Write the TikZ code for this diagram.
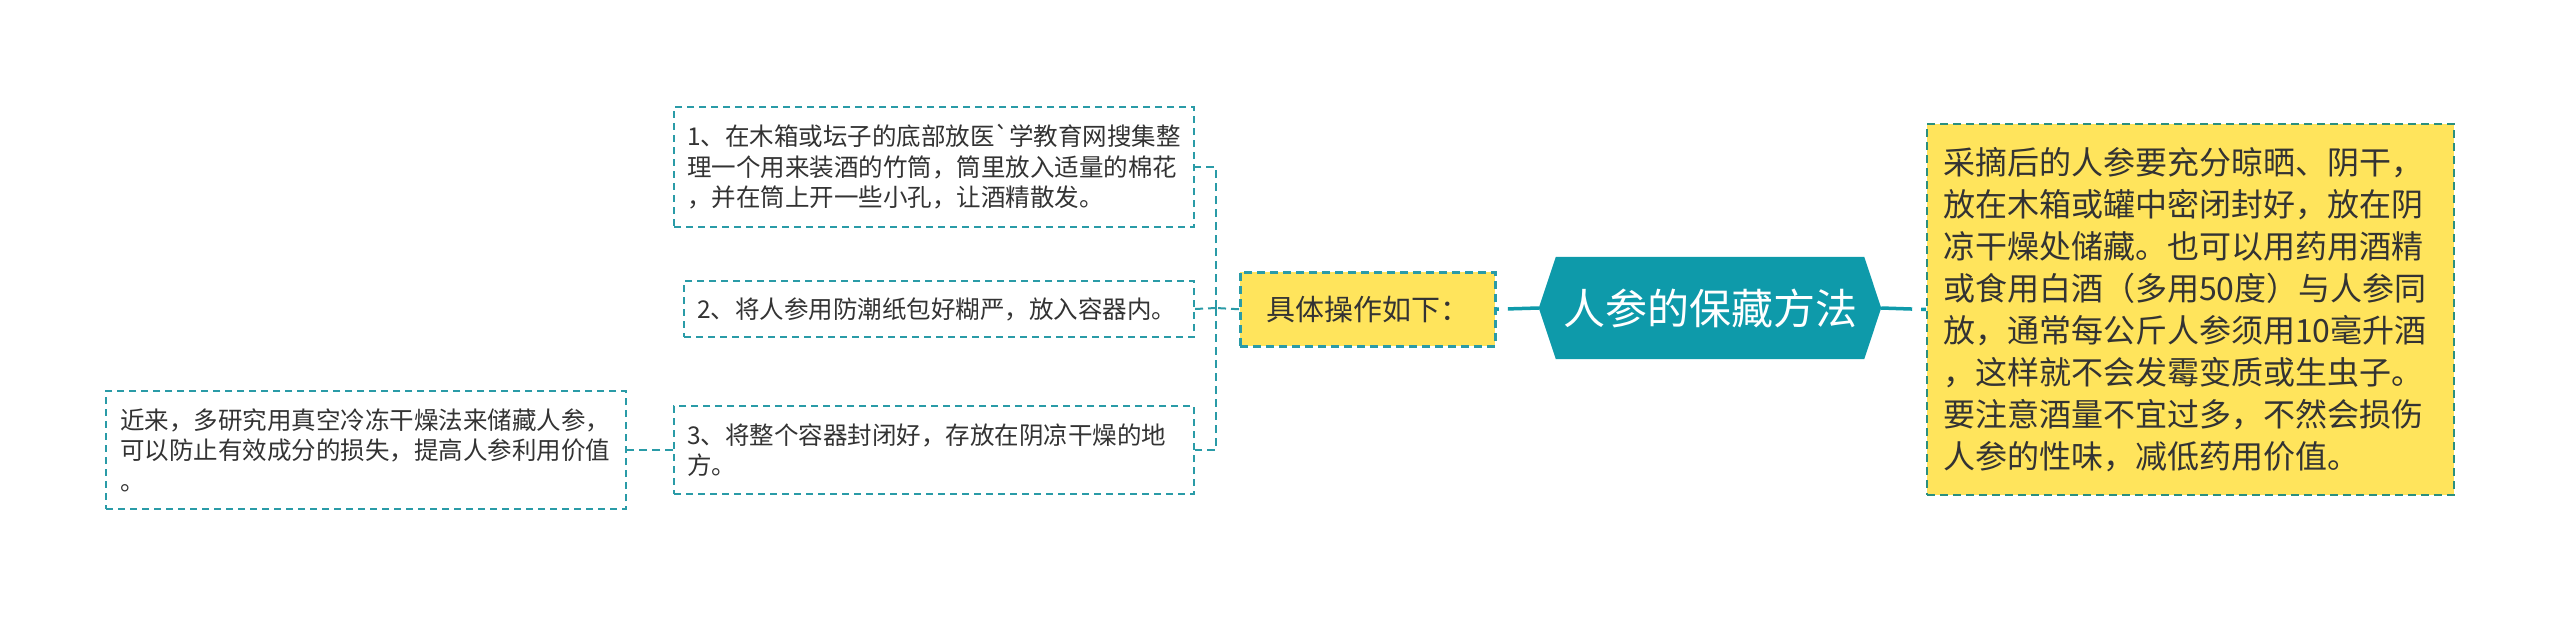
\documentclass[tikz,border=0pt]{standalone}
\usepackage{fontspec}
\setmainfont{Noto Sans CJK SC}
\usetikzlibrary{calc,backgrounds}
\definecolor{teal1}{HTML}{0E9AAA}
\definecolor{bord}{HTML}{2A9BA7}
\definecolor{bordg}{HTML}{2B8F7F}
\definecolor{yel}{HTML}{FFE45C}
\definecolor{txt}{HTML}{333333}
\tikzset{
  smallbox/.style={draw=bord, line width=2pt, dash pattern=on 7pt off 5pt,
    fill=white, text=txt, anchor=north west, inner xsep=13pt, inner ysep=0pt,
    align=left, font=\fontsize{24.5}{30.5}\selectfont},
  opbox/.style={draw=bord, line width=2.5pt, dash pattern=on 8pt off 5pt,
    fill=yel, text=txt, anchor=north west, inner sep=0pt, align=center,
    minimum width=255pt, minimum height=74pt, font=\fontsize{29}{34}\selectfont},
  rtbox/.style={draw=bordg, line width=2pt, dash pattern=on 8pt off 5pt,
    fill=yel, text=txt, anchor=north west, inner xsep=16pt, inner ysep=0pt,
    align=left, text width=495pt, minimum height=371pt,
    font=\fontsize{32}{42}\selectfont},
  rootn/.style={inner sep=0pt, minimum width=342pt, minimum height=102pt,
    text=white, font=\fontsize{42}{48}\selectfont},
  rootline/.style={draw=teal1, line width=3.5pt, dash pattern=on 31pt off 9pt},
  childline/.style={draw=bord, line width=2pt, dash pattern=on 8pt off 5pt},
}
\begin{document}
\begin{tikzpicture}[x=1pt,y=-1pt]
\useasboundingbox (0,0) rectangle (2560,616);

\node[rootn] (root) at (1710,308) {人参的保藏方法};
\begin{scope}[on background layer]
\fill[white] (0,0) rectangle (2560,616);
\fill[teal1] ($(root.north west)+(17,0)$) -- ($(root.north east)+(-17,0)$)
  -- (root.east) -- ($(root.south east)+(-17,0)$)
  -- ($(root.south west)+(17,0)$) -- (root.west) -- cycle;
\end{scope}

\node[opbox] (op) at (1239,271) {具体操作如下：};

\node[rtbox] (rt) at (1926,123) {采摘后的人参要充分晾晒、阴干，\\放在木箱或罐中密闭封好，放在阴\\凉干燥处储藏。也可以用药用酒精\\或食用白酒（多用50度）与人参同\\放，通常每公斤人参须用10毫升酒\\，这样就不会发霉变质或生虫子。\\要注意酒量不宜过多，不然会损伤\\人参的性味，减低药用价值。};

\node[smallbox, text width=494pt, minimum height=120pt] (b1) at (673,106)
  {1、在木箱或坛子的底部放医\textasciigrave 学教育网搜集整\\理一个用来装酒的竹筒，筒里放入适量的棉花\\，并在筒上开一些小孔，让酒精散发。};
\node[smallbox, text width=484pt, minimum height=56pt] (b2) at (683,280)
  {2、将人参用防潮纸包好糊严，放入容器内。};
\node[smallbox, text width=494pt, minimum height=88pt] (b3) at (673,405)
  {3、将整个容器封闭好，存放在阴凉干燥的地\\方。};
\node[smallbox, text width=492pt, minimum height=118pt, inner xsep=14pt] (lb) at (105,390)
  {近来，多研究用真空冷冻干燥法来储藏人参，\\可以防止有效成分的损失，提高人参利用价值\\。};

\coordinate (fork) at (1216,308);
\draw[rootline] (root.west) -- (op.east);
\draw[rootline] (root.east) -- (rt.west);
\draw[childline] (op.west) -- (fork);
\draw[childline] (fork) |- (b1.east);
\draw[childline] (fork) |- (b3.east);
\draw[childline] (fork) -- (b2.east);
\draw[childline] (b3.west) -- (lb.east);
\end{tikzpicture}
\end{document}
